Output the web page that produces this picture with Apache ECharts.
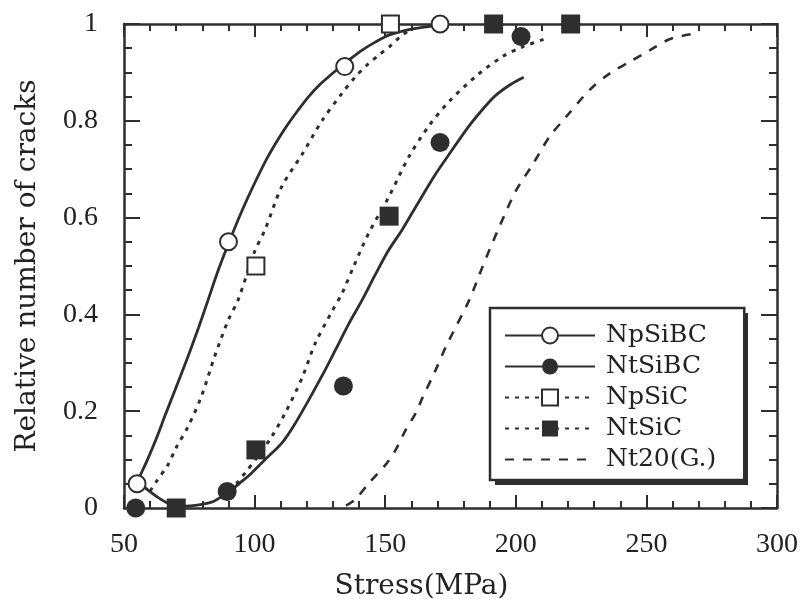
<!DOCTYPE html>
<html>
<head>
<meta charset="utf-8">
<script src="https://cdn.jsdelivr.net/npm/echarts@6/dist/echarts.min.js"></script>
<style>
html,body{margin:0;padding:0;background:#fff;}
#main{width:807px;height:599px;}
</style>
</head>
<body>
<div id="main"></div>
<script>
// ---- data ----
const seriesNames = ['NpSiBC', 'NtSiBC', 'NpSiC', 'NtSiC', 'Nt20(G.)'];

// measured points
const npsibcX = [55, 90, 134.5, 171];
const npsibcY = [0.05, 0.55, 0.912, 1.0];
const ntsibcX = [54.5, 89.5, 134, 171, 202];
const ntsibcY = [0, 0.034, 0.252, 0.755, 0.974];
const npsicX = [100.5, 152];
const npsicY = [0.5, 1.0];
const ntsicX = [70, 100.5, 151.5, 191.5, 221];
const ntsicY = [0, 0.12, 0.603, 1.0, 1.0];

// fitted curves [stress, relative number]
const npsibcCurve = [[53.5,0.035],[56,0.065],[59,0.1],[62.5,0.145],[66,0.195],[70,0.25],[74.5,0.313],[78.5,0.372],[82.2,0.43],[86,0.49],[89.9,0.545],[95,0.612],[100,0.671],[105,0.725],[110.4,0.774],[115,0.81],[120.7,0.85],[125,0.875],[130.9,0.903],[136,0.925],[141.2,0.946],[146,0.962],[151.4,0.977],[157,0.986],[163,0.992],[170,0.997]];
const ntsibcCurve = [[55,0.055],[57,0.047],[59,0.038],[63,0.022],[66.8,0.01],[70,0.005],[73.2,0.004],[78,0.006],[83.5,0.012],[87,0.022],[89.9,0.032],[94,0.05],[98.8,0.072],[104,0.1],[110.4,0.134],[115,0.17],[120.7,0.223],[126,0.275],[130.9,0.326],[136,0.38],[141.2,0.43],[146,0.48],[151,0.53],[156.5,0.575],[162,0.625],[169.3,0.69],[175,0.735],[182.2,0.79],[188,0.828],[192.4,0.853],[198,0.875],[203,0.89]];
const npsicCurve = [[60,0.035],[62.3,0.054],[66.8,0.089],[70,0.125],[74.5,0.168],[79.6,0.23],[84.7,0.313],[89.9,0.388],[93.7,0.43],[100,0.53],[104,0.575],[110.4,0.664],[118.1,0.73],[125.8,0.80],[133.5,0.857],[138.6,0.891],[143,0.915],[147.6,0.936],[152,0.955],[156,0.975],[160,0.99]];
const ntsicCurve = [[93,0.05],[96.3,0.072],[101,0.105],[106.5,0.147],[111.7,0.196],[118.1,0.268],[123.2,0.34],[129.6,0.406],[133.5,0.444],[138,0.5],[143.7,0.568],[151.4,0.643],[159.1,0.726],[166.8,0.79],[175,0.843],[185.4,0.895],[195,0.933],[202.7,0.953],[211.7,0.97]];
const nt20Curve = [[135,0.005],[138.6,0.018],[143.7,0.051],[150.1,0.089],[154,0.12],[157.8,0.161],[161.7,0.196],[164.2,0.227],[169.3,0.285],[173.2,0.333],[175.8,0.361],[182.2,0.43],[187.3,0.499],[193.7,0.581],[200,0.655],[206.5,0.71],[212.9,0.767],[219.4,0.809],[228.3,0.864],[236,0.898],[243.7,0.922],[251.4,0.946],[259.1,0.969],[269.3,0.981]];

const xMin = 50, xMax = 300, xStep = 50;
const yMin = 0, yMax = 1, yStep = 0.2;

// ---- chart ----
const INK = '#2e2e2e';
const FONT = 'DejaVu Serif';
const NUMFONT = 'Liberation Serif';
const zip = (xs, ys) => xs.map((x, i) => [x, ys[i]]);

const chart = echarts.init(document.getElementById('main'), null, {renderer: 'canvas'});

function axisCommon(extra) {
  return Object.assign({
    type: 'value',
    splitLine: {show: false},
    axisLine: {show: true, onZero: false, lineStyle: {color: INK, width: 2.5}},
    axisTick: {show: true, inside: true, length: 13, lineStyle: {color: INK, width: 2}},
    minorTick: {show: true, length: 7, lineStyle: {color: INK, width: 2}},
    axisLabel: {show: false},
    nameMoveOverlap: false
  }, extra);
}

const lineBase = (name, data, symbol, lineType, width) => ({
  name: name,
  type: 'line',
  data: data,
  smooth: 0.3,
  showSymbol: false,
  symbol: symbol,
  symbolSize: 16,
  color: INK,
  lineStyle: {color: INK, width: width, type: lineType, cap: 'butt'},
  itemStyle: {color: INK, borderWidth: 1.5},
  z: 2,
  silent: true
});

const scatterBase = (name, data, symbol) => ({
  name: name,
  type: 'scatter',
  data: data,
  symbol: symbol,
  symbolSize: symbol.indexOf('empty') === 0 ? 17 : 19,
  clip: false,
  itemStyle: {color: INK, borderColor: INK, borderWidth: symbol.indexOf('empty') === 0 ? 2 : 0, opacity: 1},
  z: 5,
  silent: true
});

chart.setOption({
  animation: false,
  backgroundColor: '#fff',
  textStyle: {fontFamily: FONT, color: '#222'},
  grid: {left: 124, right: 30, top: 24, bottom: 91, containLabel: false, outerBoundsMode: 'none'},
  graphic: [{
    type: 'rect', z: 1, silent: true,
    shape: {x: 495, y: 313, width: 253, height: 172},
    style: {fill: INK}
  }],
  xAxis: [
    axisCommon({
      position: 'bottom', min: xMin, max: xMax, interval: xStep,
      minorTick: {show: true, splitNumber: 5, length: 7, lineStyle: {color: INK, width: 2}},
      axisLabel: {show: true, margin: 23, fontSize: 28, fontFamily: NUMFONT, color: '#222'},
      name: 'Stress(MPa)', nameLocation: 'middle', nameGap: 65,
      nameTextStyle: {fontSize: 28, fontFamily: FONT, color: '#222', padding: [0, 58, 0, 0]}
    }),
    axisCommon({
      position: 'top', min: xMin, max: xMax, interval: xStep,
      minorTick: {show: true, splitNumber: 5, length: 7, lineStyle: {color: INK, width: 2}}
    })
  ],
  yAxis: [
    axisCommon({
      position: 'left', min: yMin, max: yMax, interval: yStep,
      axisTick: {show: true, inside: true, length: 16, lineStyle: {color: INK, width: 2}},
      minorTick: {show: true, splitNumber: 4, length: 8, lineStyle: {color: INK, width: 2}},
      axisLabel: {show: true, margin: 26, fontSize: 28, fontFamily: NUMFONT, color: '#222',
        formatter: v => (v === 0 ? '0' : (v === 1 ? '1' : v.toFixed(1)))},
      name: 'Relative number of cracks', nameLocation: 'middle', nameGap: 82,
      nameTextStyle: {fontSize: 28, fontFamily: FONT, color: '#222'}
    }),
    axisCommon({
      position: 'right', min: yMin, max: yMax, interval: yStep,
      axisTick: {show: true, inside: true, length: 16, lineStyle: {color: INK, width: 2}},
      minorTick: {show: true, splitNumber: 4, length: 8, lineStyle: {color: INK, width: 2}}
    })
  ],
  legend: {
    orient: 'vertical',
    left: 490, top: 308,
    z: 10,
    padding: [15, 28, 8, 14],
    itemWidth: 90, itemHeight: 20, itemGap: 6,
    backgroundColor: '#fff',
    borderColor: INK, borderWidth: 2.5, borderRadius: 0,
    textStyle: {fontSize: 25, fontFamily: FONT, color: '#222', padding: [0, 0, 0, 6]},
    selectedMode: false,
    data: [
      seriesNames[0], seriesNames[1], seriesNames[2], seriesNames[3],
      {name: seriesNames[4], itemStyle: {opacity: 0}}
    ]
  },
  series: [
    lineBase(seriesNames[0], npsibcCurve, 'emptyCircle', 'solid', 2.8),
    lineBase(seriesNames[1], ntsibcCurve, 'circle', 'solid', 2.8),
    lineBase(seriesNames[2], npsicCurve, 'emptyRect', [4, 6], 3),
    lineBase(seriesNames[3], ntsicCurve, 'rect', [4, 6], 3),
    lineBase(seriesNames[4], nt20Curve, 'none', [9, 9], 2.6),
    scatterBase('NpSiBC data', zip(npsibcX, npsibcY), 'emptyCircle'),
    scatterBase('NtSiBC data', zip(ntsibcX, ntsibcY), 'circle'),
    scatterBase('NpSiC data', zip(npsicX, npsicY), 'emptyRect'),
    scatterBase('NtSiC data', zip(ntsicX, ntsicY), 'rect')
  ]
});
</script>
</body>
</html>
